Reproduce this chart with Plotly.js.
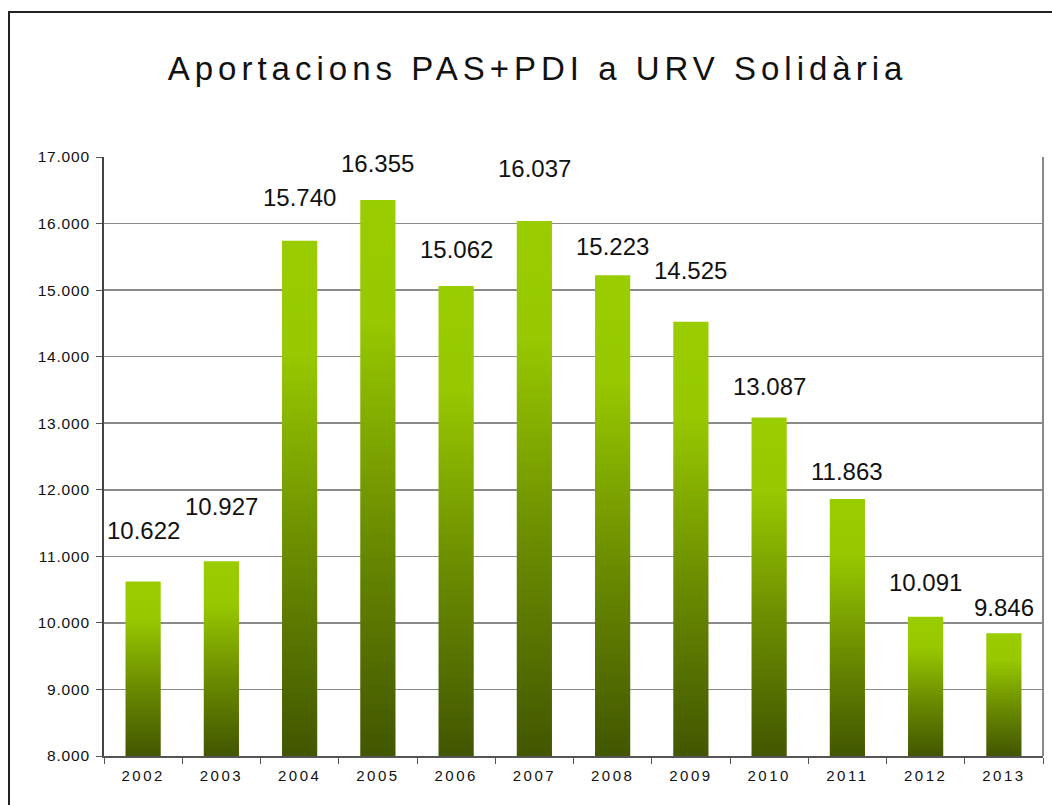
<!DOCTYPE html>
<html>
<head>
<meta charset="utf-8">
<script src="https://cdn.plot.ly/plotly-3.0.1.min.js"></script>
<style>
  html, body { margin: 0; padding: 0; background: #fff; }
  #chart { width: 1052px; height: 805px; }
  #frame { position: absolute; left: 8px; top: 11px; width: 1100px; height: 900px;
           border: 2px solid #222; pointer-events: none; box-sizing: border-box; }
</style>
</head>
<body>
<div id="chart"></div>
<div id="frame"></div>
<script>
const years = ['2002','2003','2004','2005','2006','2007','2008','2009','2010','2011','2012','2013'];
const values = [10622, 10927, 15740, 16355, 15062, 16037, 15223, 14525, 13087, 11863, 10091, 9846];
const yTicks = [8000, 9000, 10000, 11000, 12000, 13000, 14000, 15000, 16000, 17000];
const axisFloor = 8000;
const titleText = 'Aportacions PAS+PDI a URV Solidària';

// layout: pixel lift of each value label above its bar top (as drawn in the original)
const labelLift = [51, 55, 43, 36, 36, 53, 29, 51, 31, 27, 34, 26];

function fmt(v) {
  const s = String(Math.round(v));
  return s.replace(/\B(?=(\d{3})+(?!\d))/g, '.');
}

const trace = {
  type: 'bar',
  x: years,
  y: values.map(v => v - axisFloor),
  base: axisFloor,
  marker: { color: '#99cc00', line: { width: 0 } },
  hoverinfo: 'x+y'
};

const annotations = years.map((yr, i) => ({
  x: i, y: values[i], xref: 'x', yref: 'y',
  text: fmt(values[i]), showarrow: false,
  yanchor: 'middle', yshift: labelLift[i],
  font: { family: 'Liberation Sans, Arial, sans-serif', size: 24, color: '#111' }
}));

const layout = {
  width: 1052, height: 805,
  margin: { l: 104, r: 9, t: 157, b: 49 },
  paper_bgcolor: '#ffffff', plot_bgcolor: '#ffffff',
  showlegend: false,
  bargap: 0.55,
  title: {
    text: titleText,
    x: 0.511, xref: 'container', xanchor: 'center',
    y: 1 - 68/805, yref: 'container', yanchor: 'middle',
    font: { family: 'Liberation Sans, Arial, sans-serif', size: 33, color: '#111' }
  },
  xaxis: {
    type: 'category',
    range: [-0.5, years.length - 0.5],
    autorange: false,
    showline: true, linecolor: '#555', linewidth: 2,
    ticks: 'outside', ticklen: 6, tickcolor: '#555', tickwidth: 1,
    tickson: 'boundaries',
    ticklabelstandoff: 5,
    showgrid: false,
    tickfont: { family: 'Liberation Sans, Arial, sans-serif', size: 15, color: '#111' }
  },
  yaxis: {
    range: [8000, 17000],
    autorange: false,
    tickvals: yTicks, ticktext: yTicks.map(fmt),
    showline: true, linecolor: '#444', linewidth: 2, mirror: false,
    ticks: 'outside', ticklen: 6, tickcolor: '#555', tickwidth: 1,
    ticklabelstandoff: 3,
    showgrid: true, gridcolor: '#8a8a8a', gridwidth: 1.5,
    zeroline: false,
    tickfont: { family: 'Liberation Sans, Arial, sans-serif', size: 15.5, color: '#111' }
  },
  shapes: [{
    type: 'line', xref: 'paper', yref: 'paper', x0: 1, x1: 1, y0: 0, y1: 1,
    line: { color: '#8a8a8a', width: 2 }
  }],
  annotations: annotations
};

function applyGradient(gd) {
  const svg = gd.querySelector('.main-svg');
  if (!svg) return;
  const ns = 'http://www.w3.org/2000/svg';
  let defs = svg.querySelector('defs');
  if (!defs) { defs = document.createElementNS(ns, 'defs'); svg.insertBefore(defs, svg.firstChild); }
  if (!svg.querySelector('#barGrad')) {
    const g = document.createElementNS(ns, 'linearGradient');
    g.setAttribute('id', 'barGrad');
    g.setAttribute('x1', '0'); g.setAttribute('y1', '0');
    g.setAttribute('x2', '0'); g.setAttribute('y2', '1');
    [['0', '#9acd00'], ['0.22', '#97c800'], ['0.6', '#6b8c00'], ['1', '#425600']].forEach(([o, c]) => {
      const s = document.createElementNS(ns, 'stop');
      s.setAttribute('offset', o); s.setAttribute('stop-color', c);
      g.appendChild(s);
    });
    defs.appendChild(g);
  }
  gd.querySelectorAll('.trace.bars .point path').forEach(p => {
    p.style.fill = 'url(#barGrad)';
  });
  const t = gd.querySelector('.gtitle');
  if (t) t.style.letterSpacing = '5px';
  gd.querySelectorAll('.xtick text').forEach(el => { el.style.letterSpacing = '2.5px'; });
  gd.querySelectorAll('.ytick text').forEach(el => { el.style.letterSpacing = '0.8px'; });
}

const gd = document.getElementById('chart');
Plotly.newPlot(gd, [trace], layout, { displayModeBar: false, staticPlot: true }).then(() => {
  applyGradient(gd);
});
</script>
</body>
</html>
